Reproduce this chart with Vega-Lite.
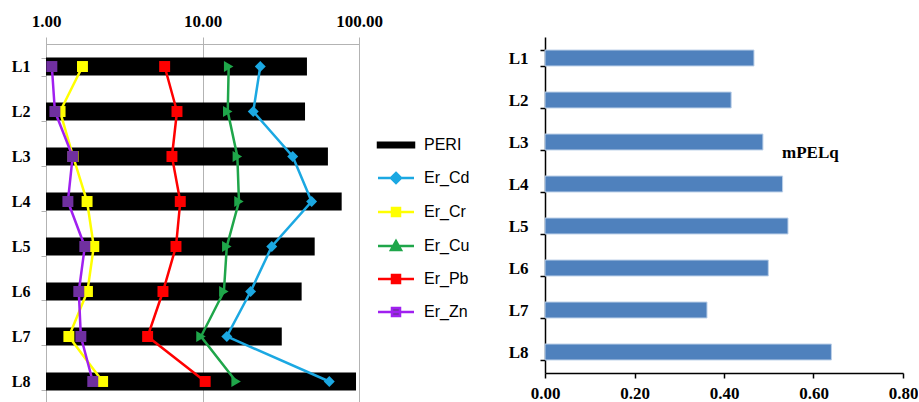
{
  "$schema": "https://vega.github.io/schema/vega-lite/v6.json",
  "padding": {"left": 11, "top": 12, "right": 0, "bottom": 0},
  "config": {"view": {"stroke": null}},
  "resolve": {"scale": {"color": "independent"}},
  "spacing": 38,
  "datasets": {
    "indices": [
      {"site": "L1", "series": "PERI", "value": 46.5},
      {"site": "L2", "series": "PERI", "value": 45.2},
      {"site": "L3", "series": "PERI", "value": 63.3},
      {"site": "L4", "series": "PERI", "value": 77.5},
      {"site": "L5", "series": "PERI", "value": 52.1},
      {"site": "L6", "series": "PERI", "value": 43.0},
      {"site": "L7", "series": "PERI", "value": 32.1},
      {"site": "L8", "series": "PERI", "value": 95.7},
      {"site": "L1", "series": "Er_Cd", "value": 23.4},
      {"site": "L2", "series": "Er_Cd", "value": 21.1},
      {"site": "L3", "series": "Er_Cd", "value": 37.7},
      {"site": "L4", "series": "Er_Cd", "value": 49.8},
      {"site": "L5", "series": "Er_Cd", "value": 27.7},
      {"site": "L6", "series": "Er_Cd", "value": 20.3},
      {"site": "L7", "series": "Er_Cd", "value": 14.3},
      {"site": "L8", "series": "Er_Cd", "value": 64.6},
      {"site": "L1", "series": "Er_Cr", "value": 1.71},
      {"site": "L2", "series": "Er_Cr", "value": 1.23},
      {"site": "L3", "series": "Er_Cr", "value": 1.49},
      {"site": "L4", "series": "Er_Cr", "value": 1.83},
      {"site": "L5", "series": "Er_Cr", "value": 2.02},
      {"site": "L6", "series": "Er_Cr", "value": 1.84},
      {"site": "L7", "series": "Er_Cr", "value": 1.40},
      {"site": "L8", "series": "Er_Cr", "value": 2.30},
      {"site": "L1", "series": "Er_Cu", "value": 14.7},
      {"site": "L2", "series": "Er_Cu", "value": 14.5},
      {"site": "L3", "series": "Er_Cu", "value": 16.7},
      {"site": "L4", "series": "Er_Cu", "value": 17.1},
      {"site": "L5", "series": "Er_Cu", "value": 14.3},
      {"site": "L6", "series": "Er_Cu", "value": 13.7},
      {"site": "L7", "series": "Er_Cu", "value": 9.78},
      {"site": "L8", "series": "Er_Cu", "value": 16.4},
      {"site": "L1", "series": "Er_Pb", "value": 5.73},
      {"site": "L2", "series": "Er_Pb", "value": 6.87},
      {"site": "L3", "series": "Er_Pb", "value": 6.38},
      {"site": "L4", "series": "Er_Pb", "value": 7.21},
      {"site": "L5", "series": "Er_Pb", "value": 6.77},
      {"site": "L6", "series": "Er_Pb", "value": 5.59},
      {"site": "L7", "series": "Er_Pb", "value": 4.46},
      {"site": "L8", "series": "Er_Pb", "value": 10.4},
      {"site": "L1", "series": "Er_Zn", "value": 1.09},
      {"site": "L2", "series": "Er_Zn", "value": 1.14},
      {"site": "L3", "series": "Er_Zn", "value": 1.48},
      {"site": "L4", "series": "Er_Zn", "value": 1.38},
      {"site": "L5", "series": "Er_Zn", "value": 1.77},
      {"site": "L6", "series": "Er_Zn", "value": 1.62},
      {"site": "L7", "series": "Er_Zn", "value": 1.67},
      {"site": "L8", "series": "Er_Zn", "value": 1.99}
    ],
    "quotients": [
      {"site": "L1", "mPELq": 0.467},
      {"site": "L2", "mPELq": 0.416},
      {"site": "L3", "mPELq": 0.487},
      {"site": "L4", "mPELq": 0.531},
      {"site": "L5", "mPELq": 0.543},
      {"site": "L6", "mPELq": 0.499},
      {"site": "L7", "mPELq": 0.362},
      {"site": "L8", "mPELq": 0.640}
    ]
  },
  "hconcat": [
    {
      "width": 313,
      "height": 367,
      "data": {"name": "indices"},
      "encoding": {
        "y": {
          "field": "site",
          "type": "nominal",
          "sort": ["L1", "L2", "L3", "L4", "L5", "L6", "L7", "L8"],
          "scale": {"paddingInner": 0.6, "paddingOuter": 0.378, "align": 0.603},
          "axis": {
            "title": null,
            "domain": false,
            "tickColor": "#b3b3b3",
            "tickSize": 5,
            "tickBand": "extent",
            "labelFont": "Liberation Serif",
            "labelFontWeight": "bold",
            "labelFontSize": 16,
            "labelColor": "#000000",
            "labelPadding": 11,
            "grid": false
          }
        }
      },
      "layer": [
        {
          "transform": [{"filter": "datum.series === 'PERI'"}],
          "mark": {"type": "bar"},
          "encoding": {
            "x": {
              "field": "value",
              "type": "quantitative",
              "scale": {"type": "log", "domain": [1, 100]},
              "axis": {
                "orient": "top",
                "offset": -7,
                "title": null,
                "values": [1, 10, 100],
                "format": ".2f",
                "grid": true,
                "gridColor": "#b3b3b3",
                "gridWidth": 1,
                "domainColor": "#b3b3b3",
                "tickColor": "#b3b3b3",
                "tickSize": 4,
                "labelFont": "Liberation Serif",
                "labelFontWeight": "bold",
                "labelFontSize": 17,
                "labelColor": "#000000",
                "labelPadding": 10,
                "labelFlush": false
              }
            },
            "x2": {"datum": 1},
            "color": {
              "field": "series",
              "type": "nominal",
              "scale": {
                "domain": ["PERI", "Er_Cd", "Er_Cr", "Er_Cu", "Er_Pb", "Er_Zn"],
                "range": ["#000000", "#1ba8e2", "#ffff00", "#1fa64a", "#ff0000", "#7030a0"]
              },
              "legend": {
                "orient": "none",
                "legendX": 329,
                "legendY": 100,
                "title": null,
                "symbolSize": 100,
                "symbolOffset": 13,
                "labelOffset": 20,
                "rowPadding": 15,
                "labelFont": "Liberation Sans",
                "labelFontSize": 16,
                "labelColor": "#000000",
                "encode": {
                  "symbols": {
                    "update": {
                      "shape": {"signal": "['M-3.6,-0.45H3.6V0.45H-3.6Z', 'M-3.6,0H3.6M0,-1L1,0L0,1L-1,0Z', 'M-3.6,0H3.6M-0.8,-0.8H0.8V0.8H-0.8Z', 'M-3.6,0H3.6M0,-1L1,0.8L-1,0.8Z', 'M-3.6,0H3.6M-0.8,-0.8H0.8V0.8H-0.8Z', 'M-3.6,0H3.6M-0.8,-0.8H0.8V0.8H-0.8Z'][indexof(['PERI', 'Er_Cd', 'Er_Cr', 'Er_Cu', 'Er_Pb', 'Er_Zn'], datum.value)]"},
                      "fill": {"signal": "['#000000', '#1ba8e2', '#ffff00', '#1fa64a', '#ff0000', '#7030a0'][indexof(['PERI', 'Er_Cd', 'Er_Cr', 'Er_Cu', 'Er_Pb', 'Er_Zn'], datum.value)]"},
                      "stroke": {"signal": "['#000000', '#1ba8e2', '#ffff00', '#1fa64a', '#ff0000', '#a020f0'][indexof(['PERI', 'Er_Cd', 'Er_Cr', 'Er_Cu', 'Er_Pb', 'Er_Zn'], datum.value)]"},
                      "strokeWidth": {"value": 2.5},
                      "opacity": {"value": 1}
                    }
                  }
                }
              }
            }
          }
        },
        {
          "transform": [{"filter": "datum.series !== 'PERI'"}],
          "mark": {"type": "line", "strokeWidth": 2.5},
          "encoding": {
            "x": {"field": "value", "type": "quantitative"},
            "order": {"field": "site", "type": "ordinal"},
            "stroke": {
              "field": "series",
              "type": "nominal",
              "scale": {
                "domain": ["Er_Cd", "Er_Cr", "Er_Cu", "Er_Pb", "Er_Zn"],
                "range": ["#1ba8e2", "#ffff00", "#1fa64a", "#ff0000", "#a020f0"]
              },
              "legend": null
            }
          }
        },
        {
          "transform": [{"filter": "datum.series !== 'PERI'"}],
          "mark": {"type": "point", "filled": true, "opacity": 1, "size": 120},
          "encoding": {
            "x": {"field": "value", "type": "quantitative"},
            "color": {"field": "series", "type": "nominal"},
            "shape": {
              "field": "series",
              "type": "nominal",
              "scale": {
                "domain": ["Er_Cd", "Er_Cr", "Er_Cu", "Er_Pb", "Er_Zn"],
                "range": ["diamond", "square", "triangle-right", "square", "square"]
              },
              "legend": null
            }
          }
        }
      ]
    },
    {
      "width": 358,
      "height": 336,
      "data": {"name": "quotients"},
      "mark": {"type": "bar", "stroke": "#bcd0e8", "strokeWidth": 1},
      "encoding": {
        "y": {
          "field": "site",
          "type": "nominal",
          "sort": ["L1", "L2", "L3", "L4", "L5", "L6", "L7", "L8"],
          "scale": {"paddingInner": 0.62, "paddingOuter": 0.31},
          "axis": {
            "title": null,
            "domainColor": "#000000",
            "domainWidth": 1.5,
            "tickColor": "#000000",
            "tickWidth": 1.5,
            "tickSize": 5,
            "tickBand": "extent",
            "labelFont": "Liberation Serif",
            "labelFontWeight": "bold",
            "labelFontSize": 17,
            "labelColor": "#000000",
            "labelPadding": 12,
            "grid": false
          }
        },
        "x": {
          "field": "mPELq",
          "type": "quantitative",
          "scale": {"domain": [0, 0.8], "nice": false},
          "axis": {
            "title": null,
            "values": [0, 0.2, 0.4, 0.6, 0.8],
            "format": ".2f",
            "grid": false,
            "domainColor": "#000000",
            "domainWidth": 1.5,
            "tickColor": "#000000",
            "tickWidth": 1.5,
            "tickSize": 5,
            "labelFont": "Liberation Serif",
            "labelFontWeight": "bold",
            "labelFontSize": 17,
            "labelColor": "#000000",
            "labelPadding": 7,
            "labelFlush": false
          }
        },
        "color": {
          "datum": "mPELq",
          "type": "nominal",
          "scale": {"range": ["#4f81bd"]},
          "legend": {
            "orient": "none",
            "legendX": 220,
            "legendY": 107,
            "title": null,
            "symbolOpacity": 0,
            "symbolSize": 1,
            "labelOffset": 0,
            "labelFont": "Liberation Serif",
            "labelFontWeight": "bold",
            "labelFontSize": 17,
            "labelColor": "#000000"
          }
        }
      }
    }
  ]
}
